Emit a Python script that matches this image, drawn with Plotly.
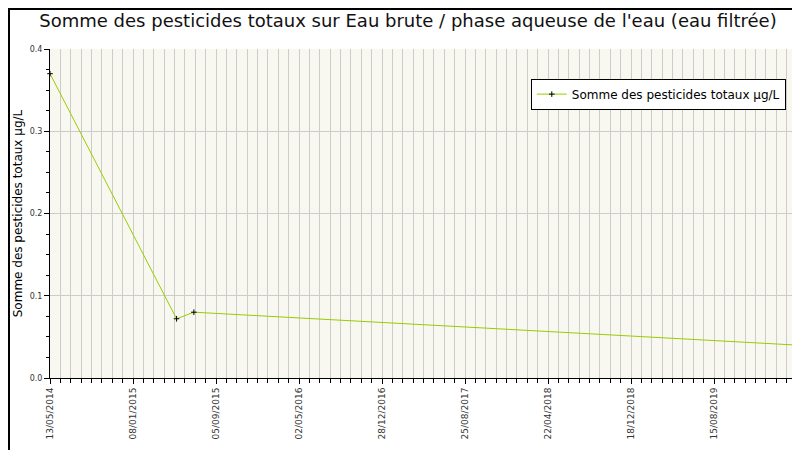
import plotly.graph_objects as go

dates = ["2014-05-13", "2015-05-14", "2015-07-03", "2020-04-11"]
values = [0.37, 0.072, 0.08, 0.04]
series_name = "Somme des pesticides totaux µg/L"
title = "Somme des pesticides totaux sur Eau brute / phase aqueuse de l'eau (eau filtrée)"

DAY = 86400000
fig = go.Figure(go.Scatter(
    x=dates, y=values, mode="lines+markers", name=series_name,
    line=dict(color="#99cc00", width=1),
    marker=dict(symbol="cross-thin", size=4, color="black", line=dict(width=1, color="black")),
    cliponaxis=False,
))
fig.update_layout(
    width=800, height=450, paper_bgcolor="white", plot_bgcolor="#f8f8f0",
    margin=dict(l=42, r=11, t=41, b=80, autoexpand=False),
    font=dict(family="DejaVu Sans", size=10, color="#333"),
    title=dict(text=title, x=0.5, xanchor="center", y=0.985, yanchor="top",
               font=dict(size=18, color="#111")),
    showlegend=True,
    legend=dict(x=0.985, y=0.91, xanchor="right", yanchor="top", bgcolor="white",
                bordercolor="black", borderwidth=1, font=dict(size=12, color="black")),
    shapes=[dict(type="rect", xref="paper", yref="paper", x0=-0.0549, x1=1.0134, y0=-0.240, y1=1.1216,
                 line=dict(color="black", width=2))],
)
fig.update_xaxes(
    type="date", range=["2014-05-13", "2020-04-11"], tick0="2014-05-13", dtick=240 * DAY,
    tickformat="%d/%m/%Y", tickangle=-90, ticks="outside", ticklen=5, tickcolor="black",
    showgrid=True, gridcolor="#cccccc", showline=True, linecolor="black", automargin=False,
    minor=dict(dtick=30 * DAY, tick0="2014-05-13", showgrid=True, gridcolor="#cccccc",
               ticks="outside", ticklen=4, tickcolor="black"),
    tickfont=dict(size=9),
)
fig.update_yaxes(
    range=[0, 0.4], dtick=0.1, tickformat=".1f", ticks="outside", ticklen=5, tickcolor="black",
    showgrid=True, gridcolor="#cccccc", showline=True, linecolor="black", zeroline=False,
    automargin=False,
    minor=dict(dtick=0.025, ticks="outside", ticklen=3, tickcolor="black", showgrid=False),
    title=dict(text=series_name, font=dict(size=12, color="black"), standoff=4),
    tickfont=dict(size=8),
)
fig.write_html("out.html")
